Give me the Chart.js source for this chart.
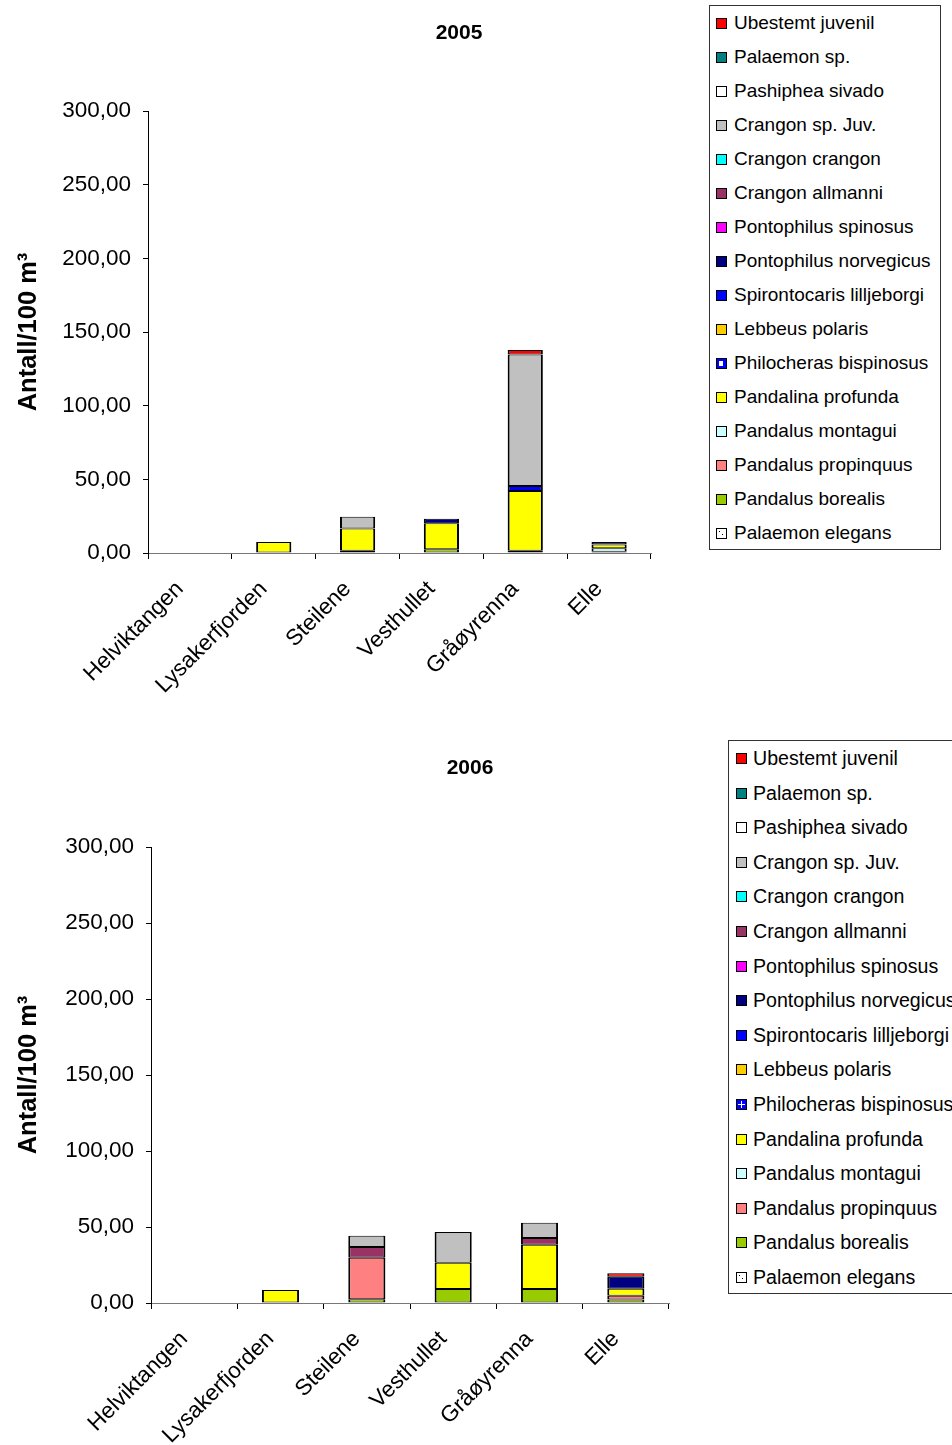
<!DOCTYPE html>
<html>
<head>
<meta charset="utf-8">
<script src="https://cdn.jsdelivr.net/npm/chart.js@4.4.1/dist/chart.umd.min.js"></script>
<style>
  body { margin: 0; width: 952px; height: 1445px; overflow: hidden; background: #fff; position: relative;
         font-family: "Liberation Sans", Arial, sans-serif; }
  canvas { position: absolute; left: 0; }
  .title { position: absolute; font-weight: bold; font-size: 21px; transform: translate(-50%, -50%); }
  .legend { position: absolute; border: 1px solid #333; background: #fff; box-sizing: border-box; }
  .item { position: absolute; line-height: 20px; white-space: nowrap; }
  .mk { position: absolute; width: 11px; height: 11px; border: 1px solid #000; box-sizing: border-box; }
</style>
</head>
<body>
<canvas id="c2005" width="700" height="720" style="top:0"></canvas>
<canvas id="c2006" width="700" height="710" style="top:735px"></canvas>
<div class="title" style="left:459px;top:32px">2005</div>
<div class="title" style="left:470px;top:767px">2006</div>
<div class="legend" id="leg2005" style="left:709px;top:5px;width:232px;height:545px"></div>
<div class="legend" id="leg2006" style="left:728px;top:740px;width:240px;height:554px"></div>

<script>
const categories = ['Helviktangen', 'Lysakerfjorden', 'Steilene', 'Vesthullet', 'Gråøyrenna', 'Elle'];

// legend order (top of legend = top of stack)
const seriesNames = [
  'Ubestemt juvenil', 'Palaemon sp.', 'Pashiphea sivado', 'Crangon sp. Juv.', 'Crangon crangon',
  'Crangon allmanni', 'Pontophilus spinosus', 'Pontophilus norvegicus', 'Spirontocaris lilljeborgi',
  'Lebbeus polaris', 'Philocheras bispinosus', 'Pandalina profunda', 'Pandalus montagui',
  'Pandalus propinquus', 'Pandalus borealis', 'Palaemon elegans'
];

const seriesColors = [
  '#ff0000', '#008080', '#ffffff', '#c0c0c0', '#00ffff',
  '#993366', '#ff00ff', '#000080', '#0000ff',
  '#ffcc00', '#0000ff', '#ffff00', '#ccffff',
  '#ff8080', '#99cc00', '#ffffff'
];

const yTicks = [0, 50, 100, 150, 200, 250, 300];

// rows follow seriesNames, columns follow categories
const values2005 = [
  [0, 0, 0, 0, 3.0, 0],
  [0, 0, 0, 0, 0, 0],
  [0, 0, 0, 0, 0, 0],
  [0, 0, 7.9, 0, 89.3, 0],
  [0, 0, 0, 0, 0, 0],
  [0, 0, 0, 0, 0, 0],
  [0, 0, 0, 0, 0, 0],
  [0, 0, 0, 3.1, 0, 1.7],
  [0, 0, 0, 0, 3.5, 0],
  [0, 0, 0, 0, 0, 0],
  [0, 0, 0, 0, 0, 0],
  [0, 7.4, 15.2, 17.7, 40.5, 2.5],
  [0, 0, 0, 0, 0, 2.5],
  [0, 0, 0, 0, 0, 0],
  [0, 0, 1.5, 2.5, 1.5, 0.8],
  [0, 0, 0, 0, 0, 0]
];

const values2006 = [
  [0, 0, 0, 0, 0, 2.2],
  [0, 0, 0, 0, 0, 0],
  [0, 0, 0, 0, 0, 0],
  [0, 0, 7.4, 20.2, 10.1, 0],
  [0, 0, 0, 0, 0, 0],
  [0, 0, 7.0, 0, 4.4, 0],
  [0, 0, 0, 0, 0, 0],
  [0, 0, 0, 0, 0, 8.0],
  [0, 0, 0, 0, 0, 0],
  [0, 0, 0, 0, 0, 0],
  [0, 0, 0, 0, 0, 0],
  [0, 8.6, 0, 17.3, 29.1, 4.5],
  [0, 0, 0, 0, 0, 0],
  [0, 0, 27.4, 0, 0, 2.5],
  [0, 0, 2.4, 9.2, 9.2, 2.3],
  [0, 0, 0, 0, 0, 0]
];

const FONT = '"Liberation Sans", Arial, sans-serif';

function makeChart(id, values, geo) {
  // Chart.js stacks the first dataset at the bottom, so reverse legend order
  const datasets = seriesNames.map((name, i) => ({
    label: name,
    data: values[i].map(v => v || null),
    backgroundColor: seriesColors[i],
    borderColor: '#000',
    borderWidth: { left: 2, right: 2, top: 1, bottom: 1 },
    borderSkipped: false,
    barPercentage: 1,
    categoryPercentage: geo.barFrac
  })).reverse();

  new Chart(document.getElementById(id), {
    type: 'bar',
    data: { labels: categories, datasets: datasets },
    options: {
      responsive: false,
      animation: false,
      layout: { padding: { left: 0, top: geo.top, right: geo.right, bottom: 0 } },
      plugins: { legend: { display: false }, tooltip: { enabled: false } },
      scales: {
        x: {
          stacked: true,
          grid: { drawOnChartArea: false, tickLength: 6, color: '#000', offset: true },
          border: { color: '#777' },
          ticks: {
            color: '#000', font: { family: FONT, size: 22.5 },
            maxRotation: 45, minRotation: 45, padding: 17, labelOffset: -10
          },
          afterFit: s => { s.height = geo.xHeight; }
        },
        y: {
          stacked: true,
          min: 0,
          max: 300,
          afterBuildTicks: s => { s.ticks = yTicks.map(v => ({ value: v })); },
          grid: { drawOnChartArea: false, tickLength: 5, color: '#000' },
          border: { color: '#000' },
          ticks: {
            color: '#000', padding: 12, font: { family: FONT, size: 22.5 },
            callback: v => v.toFixed(2).replace('.', ',')
          },
          title: {
            display: true, text: 'Antall/100 m³', color: '#000',
            font: { family: FONT, size: 25.5, weight: 'bold' }, padding: { top: 14, bottom: 0 }
          },
          afterFit: s => { s.width = geo.left; }
        }
      }
    }
  });
}

function makeLegend(id, spacing, firstY, markerX, textX, fontSize, philoCross) {
  const box = document.getElementById(id);
  seriesNames.forEach((name, i) => {
    const y = firstY + i * spacing;
    const mk = document.createElement('div');
    mk.className = 'mk';
    mk.style.left = markerX + 'px';
    mk.style.top = (y - 5) + 'px';
    mk.style.background = seriesColors[i];
    if (name === 'Philocheras bispinosus') {
      mk.style.background = '#0000ff';
      mk.innerHTML = philoCross
        ? '<div style="position:absolute;left:4px;top:1px;width:1px;height:7px;background:#fff"></div><div style="position:absolute;left:1px;top:4px;width:7px;height:1px;background:#fff"></div>'
        : '<div style="position:absolute;left:2px;top:2px;width:4px;height:5px;background:#fff"></div>';
    }
    if (name === 'Palaemon elegans') {
      mk.innerHTML = '<div style="position:absolute;left:2px;top:2px;width:1px;height:1px;background:#000"></div><div style="position:absolute;left:5px;top:5px;width:1px;height:1px;background:#000"></div>';
    }
    box.appendChild(mk);
    const t = document.createElement('div');
    t.className = 'item';
    t.style.left = textX + 'px';
    t.style.top = (y - 10) + 'px';
    t.style.fontSize = fontSize + 'px';
    t.textContent = name;
    box.appendChild(t);
  });
}

makeChart('c2005', values2005, { left: 148, top: 111, right: 49, xHeight: 167, barFrac: 0.42 });
makeChart('c2006', values2006, { left: 151, top: 112, right: 31, xHeight: 142, barFrac: 0.43 });

makeLegend('leg2005', 34, 17, 6, 24, 19, false);
makeLegend('leg2006', 34.6, 17, 7, 24, 19.6, true);
</script>
</body>
</html>
